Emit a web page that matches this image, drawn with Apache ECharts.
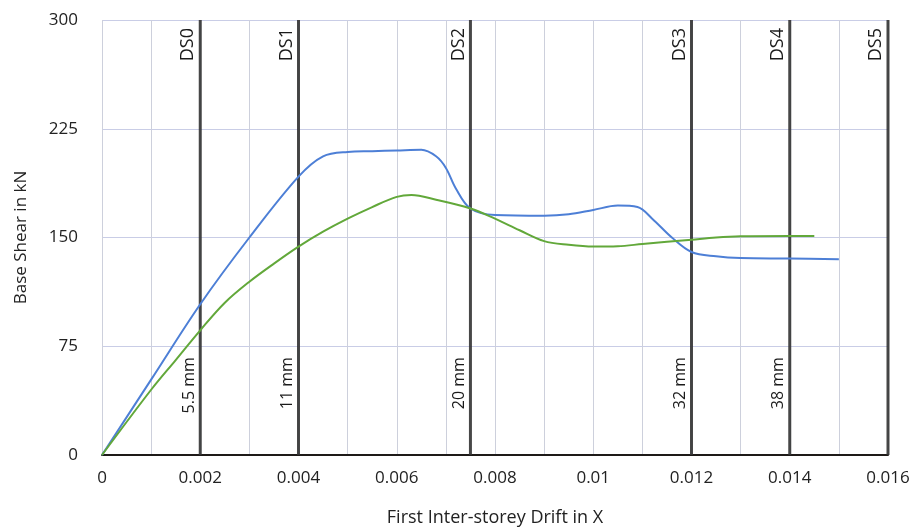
<!DOCTYPE html>
<html>
<head>
<meta charset="utf-8">
<script src="https://cdn.jsdelivr.net/npm/echarts@6/dist/echarts.min.js"></script>
<style>
    html, body { margin: 0; padding: 0; background: #fff; }
    #chart { width: 912px; height: 527px; }
</style>
</head>
<body>
<div id="chart"></div>
<script>
// 蓝线 (drift, kN)
const blueCurve = [
    [0, 0], [0.001, 52], [0.002, 104], [0.003, 150], [0.004, 192], [0.0045, 206],
    [0.005, 209], [0.0055, 209.5], [0.006, 210], [0.0065, 210.5], [0.0068, 206],
    [0.007, 198], [0.0072, 184], [0.0075, 170], [0.008, 165.5], [0.009, 165],
    [0.0095, 166], [0.01, 169], [0.0105, 172], [0.0109, 171], [0.0112, 163],
    [0.0116, 150], [0.012, 140], [0.0125, 137], [0.013, 135.8], [0.014, 135.5],
    [0.015, 135]
]
// 绿线
const greenCurve = [
    [0, 0], [0.001, 45], [0.0015, 65.5], [0.002, 86], [0.0025, 105], [0.003, 119.5],
    [0.0035, 132], [0.004, 143.7], [0.0045, 154], [0.005, 163], [0.0055, 171],
    [0.006, 178], [0.0063, 179.3], [0.0068, 176], [0.0075, 170], [0.008, 163],
    [0.0085, 155], [0.009, 147.5], [0.0095, 145], [0.01, 143.8], [0.0105, 144],
    [0.011, 145.5], [0.012, 148.5], [0.0125, 150], [0.013, 150.8], [0.014, 151],
    [0.0145, 151]
]
// damage state lines
const dsDrift = [0.002, 0.004, 0.0075, 0.012, 0.014, 0.016]
const dsNames = ['DS0', 'DS1', 'DS2', 'DS3', 'DS4', 'DS5']
const dsMm = ['5.5 mm', '11 mm', '20 mm', '32 mm', '38 mm', '']

const yMax = 300
const mmLabelAt = 67.5 // kN level where the mm text ends

const font = '"Open Sans", Lato, sans-serif'

let myChart = echarts.init(document.getElementById('chart'))

myChart.setOption({
    animation: false,
    grid: { left: 102, right: 24, top: 20, bottom: 72, outerBoundsMode: 'none', containLabel: false },
    xAxis: {
        type: 'value',
        min: 0,
        max: 0.016,
        interval: 0.002,
        name: 'First Inter-storey Drift in X',
        nameLocation: 'middle',
        nameGap: 54,
        nameTextStyle: { fontFamily: font, fontSize: 18, color: '#222' },
        axisLine: { show: true, lineStyle: { color: '#1e1a18', width: 2 } },
        axisTick: { show: false },
        axisLabel: {
            fontFamily: font, fontSize: 17, color: '#222', margin: 15,
            formatter: v => String(parseFloat(v.toFixed(3)))
        },
        splitLine: { show: true, lineStyle: { color: '#cdd0dc', width: 1 } },
        minorTick: { show: false, splitNumber: 2 },
        minorSplitLine: { show: true, lineStyle: { color: '#cdd0dc', width: 1 } }
    },
    yAxis: {
        type: 'value',
        min: 0,
        max: yMax,
        interval: 75,
        name: 'Base Shear in kN',
        nameLocation: 'middle',
        nameGap: 72,
        nameTextStyle: { fontFamily: font, fontSize: 17, color: '#222' },
        axisLine: { show: false },
        axisTick: { show: false },
        axisLabel: { fontFamily: font, fontSize: 17, color: '#222', margin: 24 },
        splitLine: { show: true, lineStyle: { color: '#c9cde6', width: 1 } }
    },
    series: [
        {
            name: 'DS',
            type: 'custom',
            silent: true,
            z: 1,
            data: dsDrift.map((d, i) => [d, i]),
            renderItem: function (params, api) {
                const x = api.value(0)
                const top = api.coord([x, yMax])
                const bottom = api.coord([x, 0])
                const mmPos = api.coord([x, mmLabelAt])
                const i = params.dataIndex
                return {
                    type: 'group',
                    children: [
                        {
                            type: 'line',
                            shape: { x1: top[0], y1: top[1], x2: bottom[0], y2: bottom[1] },
                            style: { stroke: '#333', lineWidth: 3, opacity: 0.9 }
                        },
                        {
                            type: 'text',
                            x: top[0] - 3,
                            y: top[1] + 8,
                            rotation: Math.PI / 2,
                            style: {
                                text: dsNames[i], fill: '#1a1a1a',
                                font: '18px ' + font,
                                align: 'right', verticalAlign: 'bottom'
                            }
                        },
                        {
                            type: 'text',
                            x: mmPos[0] - 3,
                            y: mmPos[1],
                            rotation: Math.PI / 2,
                            style: {
                                text: dsMm[i], fill: '#1a1a1a',
                                font: '16px ' + font,
                                align: 'right', verticalAlign: 'bottom'
                            }
                        }
                    ]
                }
            }
        },
        {
            name: 'blue',
            type: 'line',
            z: 3,
            smooth: 0.35,
            symbol: 'none',
            lineStyle: { color: '#4d7fd6', width: 2 },
            data: blueCurve
        },
        {
            name: 'green',
            type: 'line',
            z: 3,
            smooth: 0.35,
            symbol: 'none',
            lineStyle: { color: '#62a83a', width: 2 },
            data: greenCurve
        }
    ]
})
</script>
</body>
</html>
